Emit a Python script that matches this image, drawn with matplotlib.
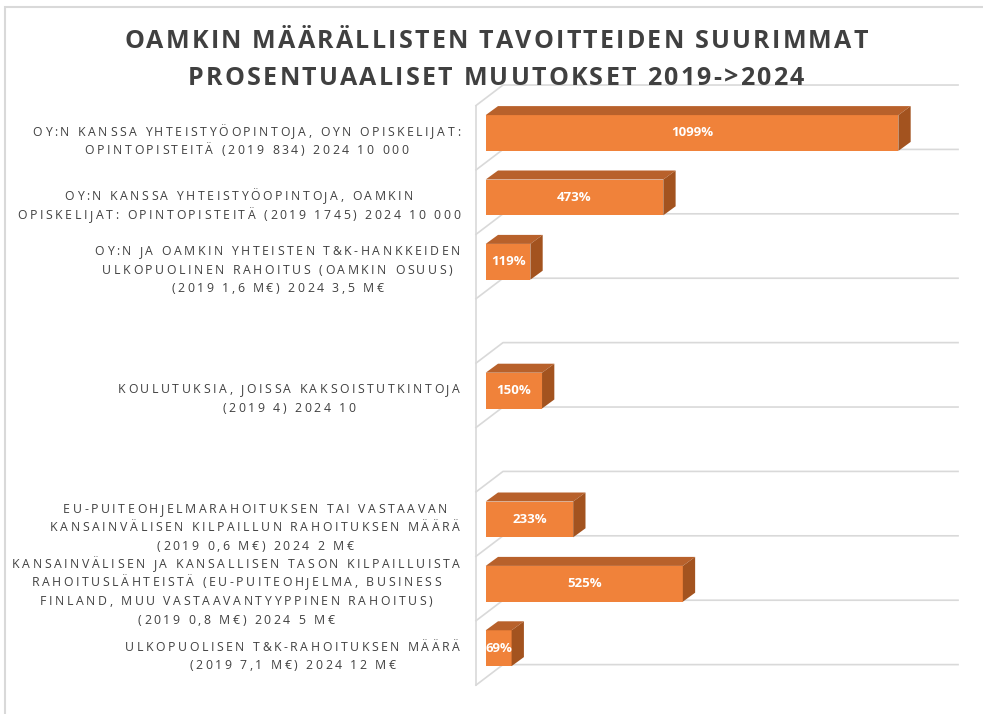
import matplotlib
matplotlib.use('Agg')
import matplotlib.pyplot as plt
from matplotlib.patches import Polygon, Rectangle
from matplotlib.font_manager import FontProperties, findfont, get_font

# data: 9 category slots, two of them empty in the original sheet
categories = [
    "OY:N KANSSA YHTEISTYÖOPINTOJA, OYN OPISKELIJAT:\nOPINTOPISTEITÄ (2019 834) 2024 10 000",
    "OY:N KANSSA YHTEISTYÖOPINTOJA, OAMKIN\nOPISKELIJAT: OPINTOPISTEITÄ (2019 1745) 2024 10 000",
    "OY:N JA OAMKIN YHTEISTEN T&K-HANKKEIDEN\nULKOPUOLINEN RAHOITUS (OAMKIN OSUUS)\n(2019 1,6 M€) 2024 3,5 M€",
    "",
    "KOULUTUKSIA, JOISSA KAKSOISTUTKINTOJA\n(2019 4) 2024 10",
    "",
    "EU-PUITEOHJELMARAHOITUKSEN TAI VASTAAVAN\nKANSAINVÄLISEN KILPAILLUN RAHOITUKSEN MÄÄRÄ\n(2019 0,6 M€) 2024 2 M€",
    "KANSAINVÄLISEN JA KANSALLISEN TASON KILPAILLUISTA\nRAHOITUSLÄHTEISTÄ (EU-PUITEOHJELMA, BUSINESS\nFINLAND, MUU VASTAAVANTYYPPINEN RAHOITUS)\n(2019 0,8 M€) 2024 5 M€",
    "ULKOPUOLISEN T&K-RAHOITUKSEN MÄÄRÄ\n(2019 7,1 M€) 2024 12 M€",
]
values = [1099, 473, 119, None, 150, None, 233, 525, 69]
title_lines = ["OAMKIN MÄÄRÄLLISTEN TAVOITTEIDEN SUURIMMAT",
               "PROSENTUAALISET MUUTOKSET 2019->2024"]

W, H = 983, 714
fig = plt.figure(figsize=(W / 100, H / 100), dpi=100)
ax = fig.add_axes([0, 0, 1, 1])
ax.axis('off')

# value axis: 0 at x=485.7 px, 0.3755 px per percent; slots 64.4 px apart
ppx = 0.3755
slot = 64.4
ax.set_xlim(-485.7 / ppx, (W - 485.7) / ppx)
ax.set_ylim((H - 133) / slot, -133 / slot)

front_c = '#F0823A'
top_c = '#B8612B'
side_c = '#A3531F'
grid_c = '#D9D9D9'

# fake 3d: bar depth offset and wall depth
dx, dy = 12.3 / ppx, -9 / slot
hh = 17.9 / slot
wall_dx, wall_dy = 27 / ppx, -20.5 / slot
wall_x0 = -9.7 / ppx
grid_max = 1186

# gridlines (back wall + floor diagonals) and the left wall
for k in range(len(categories) + 1):
    yf = k - 0.745 - wall_dy
    ax.plot([wall_x0, wall_x0 + wall_dx, grid_max + wall_dx],
            [yf, yf + wall_dy, yf + wall_dy], color=grid_c, lw=1.2, zorder=1)
ax.plot([wall_x0, wall_x0], [-0.745 - wall_dy, len(categories) - 0.745 - wall_dy],
        color=grid_c, lw=1.2, zorder=1)

# bars
for i, v in enumerate(values):
    if v is None:
        continue
    ax.add_patch(Rectangle((0, i - hh), v, 2 * hh, fc=front_c, ec='none', zorder=3))
    ax.add_patch(Polygon([(0, i - hh), (v, i - hh), (v + dx, i - hh + dy), (dx, i - hh + dy)],
                         closed=True, fc=top_c, ec='none', zorder=3))
    ax.add_patch(Polygon([(v, i - hh), (v, i + hh), (v + dx, i + hh + dy), (v + dx, i - hh + dy)],
                         closed=True, fc=side_c, ec='none', zorder=3))
    ax.text(v / 2, i, f"{v}%", ha='center', va='center', color='white',
            fontsize=9.5, fontweight='bold', family='Open Sans', zorder=4)


def advances(s, fp):
    font = get_font(findfont(fp))
    font.set_size(fp.get_size_in_points(), 100)
    return [font.load_char(ord(c)).linearHoriAdvance / 65536 for c in s]


def line_width(s, fp, track):
    a = advances(s, fp)
    return sum(a) + track * (len(s) - 1)


def tracked(xc, yc, s, fp, track, color):
    # letter-spaced line, centred at pixel (xc, yc) measured from the top
    a = advances(s, fp)
    total = sum(a) + track * (len(s) - 1)
    cap = 0.714 * fp.get_size_in_points() * 100 / 72
    base = H - yc - cap / 2
    x = xc - total / 2
    for ch, adv in zip(s, a):
        if ch != ' ':
            fig.text(x / W, base / H, ch, fontproperties=fp, color=color,
                     ha='left', va='baseline')
        x += adv + track


# title
tfp = FontProperties(family='Open Sans', size=18, weight='bold')
for j, line in enumerate(title_lines):
    tracked(496, 39 + 37 * j, line, tfp, 2.25, '#404040')

# category labels, centred block right-aligned at x=460
lfp = FontProperties(family='Open Sans', size=8.8)
ltrack = 2.6
lsp = 18.7
for i, lab in enumerate(categories):
    if not lab:
        continue
    lines = lab.split('\n')
    bw = max(line_width(l, lfp, ltrack) for l in lines)
    xc = 460 - bw / 2
    yc = H - ax.transData.transform((0, i + 7.5 / slot))[1]
    for j, l in enumerate(lines):
        tracked(xc, yc + (j - (len(lines) - 1) / 2) * lsp, l, lfp, ltrack, '#404040')

# chart area border
fig.patches.append(Rectangle((5 / W, -0.1), 2, (H - 7) / H + 0.1, transform=fig.transFigure,
                             fill=False, ec='#D9D9D9', lw=1.5))

fig.savefig('out.png', dpi=100, facecolor='white')
